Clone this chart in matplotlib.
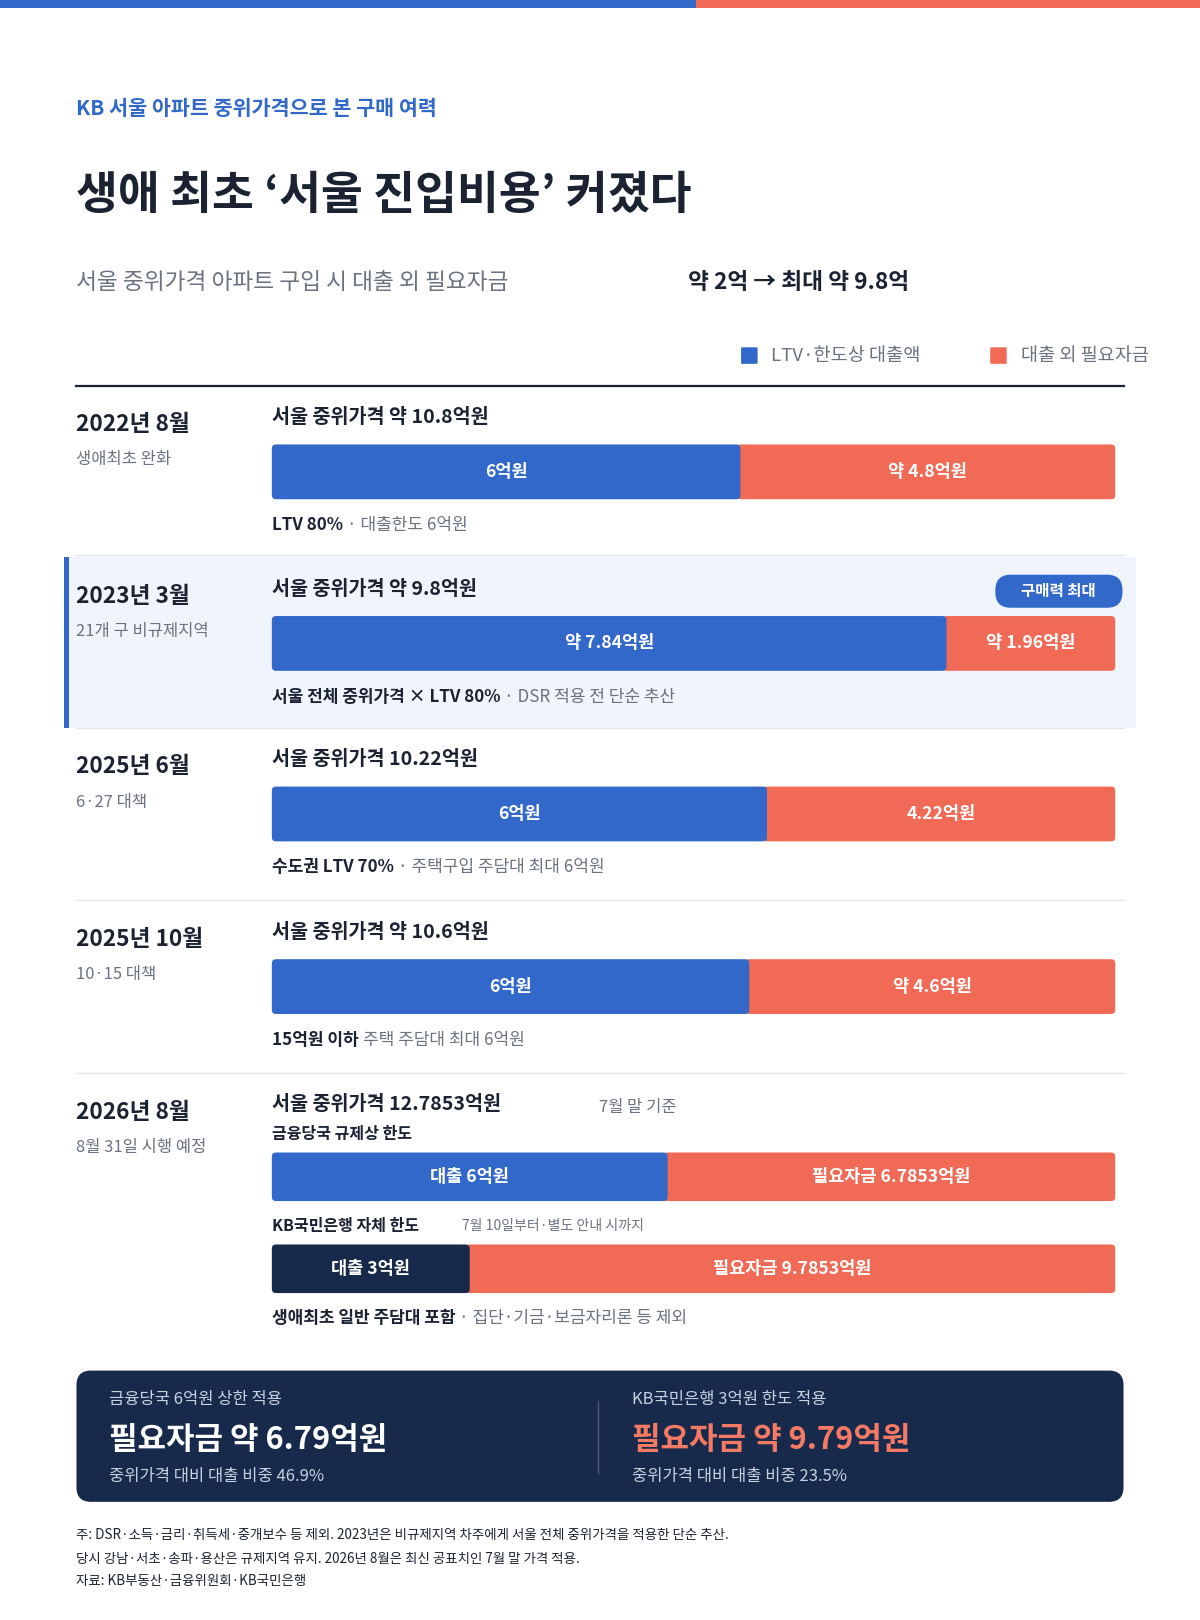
import matplotlib.pyplot as plt
from matplotlib.patches import FancyBboxPatch, Rectangle

plt.rcParams['font.family'] = ['Noto Sans CJK KR', 'DejaVu Sans']

BLUE = '#3168C9'
CORAL = '#F06A56'
NAVY = '#182A4B'
DARK = '#1B2232'
GRAY = '#6B7280'

# data
periods = ['2022년 8월', '2023년 3월', '2025년 6월', '2025년 10월', '2026년 8월']
period_notes = ['생애최초 완화', '21개 구 비규제지역', '6·27 대책', '10·15 대책', '8월 31일 시행 예정']
titles = ['서울 중위가격 약 10.8억원', '서울 중위가격 약 9.8억원', '서울 중위가격 10.22억원',
          '서울 중위가격 약 10.6억원', '서울 중위가격 12.7853억원']
loan = [6.0, 7.84, 6.0, 6.0, 6.0]
other = [4.8, 1.96, 4.22, 4.6, 6.7853]
loan_labels = ['6억원', '약 7.84억원', '6억원', '6억원', '대출 6억원']
other_labels = ['약 4.8억원', '약 1.96억원', '4.22억원', '약 4.6억원', '필요자금 6.7853억원']
notes_bold = ['LTV 80%', '서울 전체 중위가격 × LTV 80%', '수도권 LTV 70%', '15억원 이하', '생애최초 일반 주담대 포함']
notes_rest = ['· 대출한도 6억원', '· DSR 적용 전 단순 추산', '· 주택구입 주담대 최대 6억원',
              '주택 주담대 최대 6억원', '· 집단·기금·보금자리론 등 제외']
kb_loan, kb_other = 3.0, 9.7853

fig = plt.figure(figsize=(12, 16.2), dpi=100)
ax = fig.add_axes([0, 0, 1, 1])
W, H = 1161, 1567.3
ax.set_xlim(0, W)
ax.set_ylim(H, 0)
ax.axis('off')
S = 1200 / 1161 * 0.72  # px -> pt


def t(x, y, s, size, color=DARK, weight='normal', ha='left', va='center'):
    return ax.text(x, y, s, fontsize=size * S, color=color, fontweight=weight, ha=ha, va=va)


def rbox(x, y, w, h, color, r=4):
    ax.add_patch(FancyBboxPatch((x + r, y + r), w - 2 * r, h - 2 * r,
                                boxstyle=f'round,pad={r}', fc=color, ec='none', mutation_aspect=1))


def bar(y, h, a, b, la, lb, ca=BLUE, cb=CORAL):
    x0, x1 = 263, 1079
    xm = x0 + (x1 - x0) * a / (a + b)
    rbox(xm - 4, y, x1 - xm + 4, h, cb)
    rbox(x0, y, xm - x0, h, ca)
    t((x0 + xm) / 2, y + h / 2, la, 17, 'white', 'bold', 'center')
    t((xm + x1) / 2, y + h / 2, lb, 17, 'white', 'bold', 'center')


# top stripe
ax.add_patch(Rectangle((0, 0), 673, 8, fc=BLUE, ec='none'))
ax.add_patch(Rectangle((673, 0), W - 673, 8, fc=CORAL, ec='none'))

t(74, 105, 'KB 서울 아파트 중위가격으로 본 구매 여력', 20, BLUE, 'bold')
t(74, 190, '생애 최초 ‘서울 진입비용’ 커졌다', 44, DARK, 'bold')
t(74, 273, '서울 중위가격 아파트 구입 시 대출 외 필요자금', 22, GRAY)
t(666, 273, '약 2억 → 최대 약 9.8억', 22, DARK, 'bold')

ax.add_patch(FancyBboxPatch((718, 337), 14, 14, boxstyle='round,pad=1', fc=BLUE, ec='none'))
t(746, 344, 'LTV·한도상 대출액', 18, GRAY)
ax.add_patch(FancyBboxPatch((959, 337), 14, 14, boxstyle='round,pad=1', fc=CORAL, ec='none'))
t(988, 344, '대출 외 필요자금', 18, GRAY)
ax.plot([74, 1087], [373, 373], color=DARK, lw=1.6)

# highlight row background
ax.add_patch(Rectangle((62, 539), 1037, 165, fc='#EFF4FD', ec='none'))
ax.add_patch(Rectangle((62, 539), 5, 165, fc=BLUE, ec='none'))

row_top = [373, 539, 704, 871, 1038]
for i in range(5):
    y0 = row_top[i]
    t(74, y0 + 38, periods[i], 22, DARK, 'bold')
    t(74, y0 + 72, period_notes[i], 16, GRAY)
    t(263, y0 + 31, titles[i], 19, DARK, 'bold')
    if i < 4:
        bar(y0 + 57, 53, loan[i], other[i], loan_labels[i], other_labels[i])
        nb = t(263, y0 + 135, notes_bold[i], 16.5, DARK, 'bold')
        fig.canvas.draw()
        bb = nb.get_window_extent().transformed(ax.transData.inverted())
        t(bb.x1 + 4, y0 + 135, notes_rest[i], 16.5, GRAY)
    if 0 < i and i != 1:
        ax.plot([74, 1087], [y0, y0], color='#E3E6EA', lw=1)
ax.plot([74, 1087], [537, 537], color='#E3E6EA', lw=1)

# 2023 badge
rbox(963, 556, 123, 32, BLUE, r=15)
t(1024, 572, '구매력 최대', 15, 'white', 'bold', 'center')

# 2026 row extras
y0 = row_top[4]
t(580, y0 + 33, '7월 말 기준', 16, GRAY)
t(263, y0 + 59, '금융당국 규제상 한도', 15.5, DARK, 'bold')
bar(1115, 47, loan[4], other[4], loan_labels[4], other_labels[4])
t(263, 1186, 'KB국민은행 자체 한도', 15.5, DARK, 'bold')
t(447, 1186, '7월 10일부터·별도 안내 시까지', 13.5, GRAY)
bar(1204, 47, kb_loan, kb_other, '대출 3억원', '필요자금 9.7853억원', ca=NAVY)
nb = t(263, 1275, notes_bold[4], 16.5, DARK, 'bold')
fig.canvas.draw()
bb = nb.get_window_extent().transformed(ax.transData.inverted())
t(bb.x1 + 4, 1275, notes_rest[4], 16.5, GRAY)

# summary box
rbox(74, 1326, 1013, 127, NAVY, r=14)
ax.plot([579, 579], [1355, 1425], color='#4A5876', lw=1)
t(105, 1354, '금융당국 6억원 상한 적용', 16, '#C9D1E0')
t(105, 1393, '필요자금 약 6.79억원', 30, 'white', 'bold')
t(105, 1428, '중위가격 대비 대출 비중 46.9%', 16, '#C9D1E0')
t(611, 1354, 'KB국민은행 3억원 한도 적용', 16, '#C9D1E0')
t(611, 1393, '필요자금 약 9.79억원', 30, '#F47A63', 'bold')
t(611, 1428, '중위가격 대비 대출 비중 23.5%', 16, '#C9D1E0')

# footnotes
t(74, 1485, '주: DSR·소득·금리·취득세·중개보수 등 제외. 2023년은 비규제지역 차주에게 서울 전체 중위가격을 적용한 단순 추산.', 13, DARK)
t(74, 1508, '당시 강남·서초·송파·용산은 규제지역 유지. 2026년 8월은 최신 공표치인 7월 말 가격 적용.', 13, DARK)
t(74, 1530, '자료: KB부동산·금융위원회·KB국민은행', 13, DARK)

fig.savefig('out.png', dpi=100, facecolor='white')
